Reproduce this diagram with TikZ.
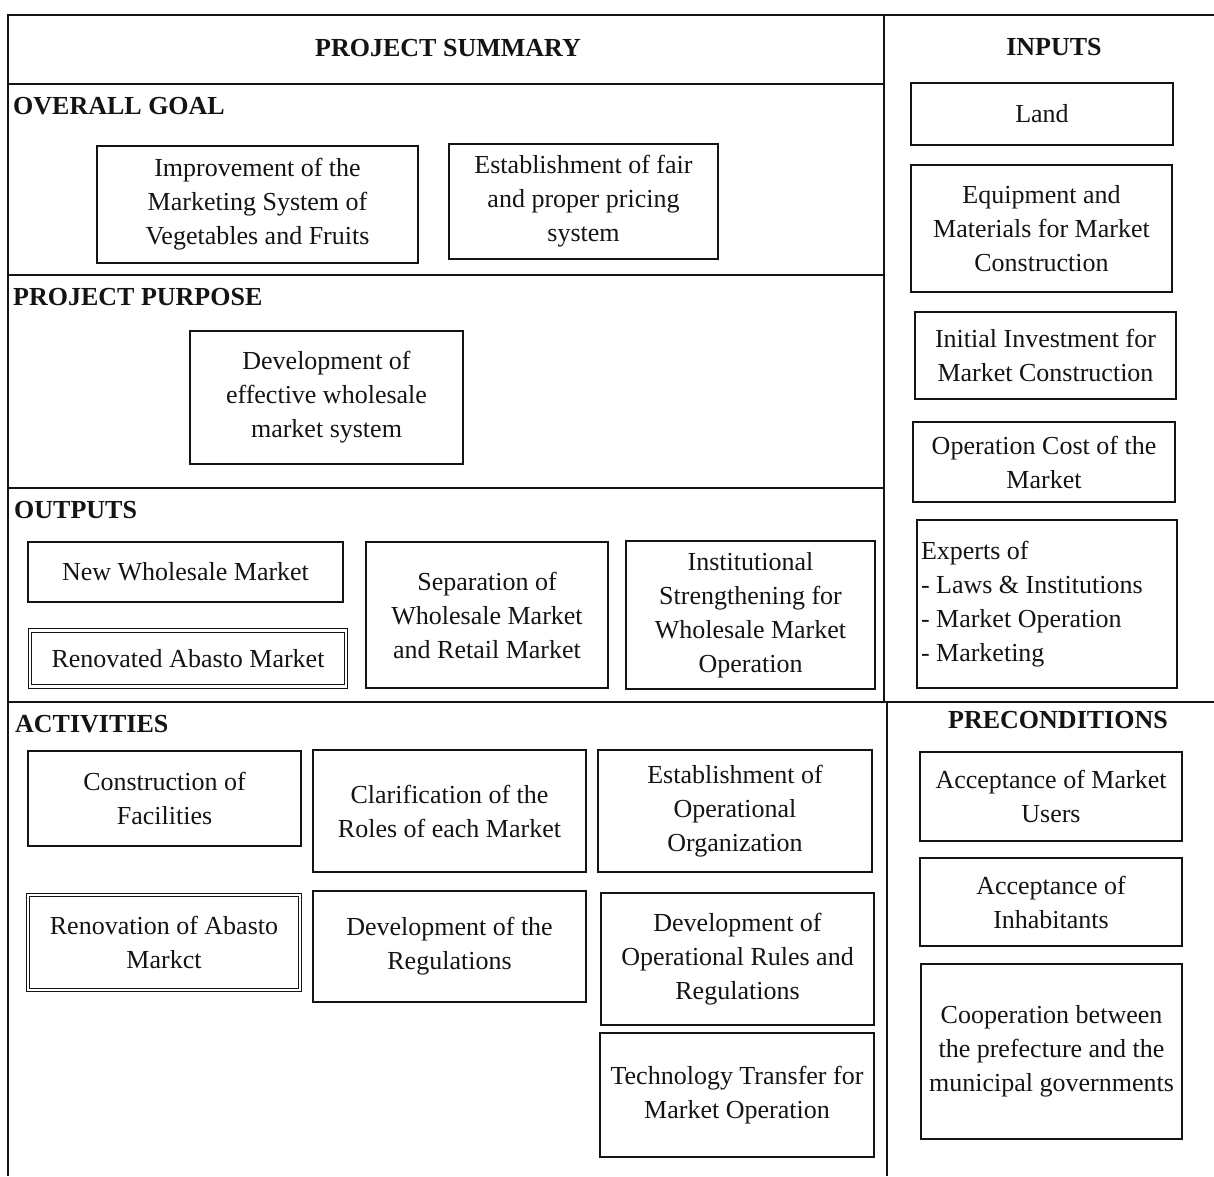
\documentclass[tikz,border=0pt]{standalone}
\usepackage{fontspec}
\setmainfont{Liberation Serif}
\usepackage{tikz}
\usetikzlibrary{positioning}
\definecolor{ink}{HTML}{141414}

\tikzset{
  frame/.style={draw=ink,line width=1.8pt},
  box/.style={draw=ink,line width=1.3pt,align=center,inner sep=2pt,fill=white},
  dbox/.style={box,double,double distance=2.6pt,line width=1.1pt},
  sz/.style 2 args={minimum width=#1pt,minimum height=#2pt},
  head/.style={font=\fontsize{26}{34}\selectfont\bfseries,inner sep=0pt},
}

\begin{document}
\begin{tikzpicture}[x=1pt,y=-1pt,font=\fontsize{26}{34}\selectfont,color=ink]
  \useasboundingbox[fill=white] (0,0) rectangle (1214,1176);

  % frame
  \draw[frame] (1214,15) -- (8,15) -- (8,1176);
  \draw[frame] (884,15) -- (884,702) (887,702) -- (887,1176);
  \draw[frame] (8,84) -- (884,84);
  \draw[frame] (8,275) -- (884,275);
  \draw[frame] (8,488) -- (884,488);
  \draw[frame] (8,702) -- (1214,702);

  \node[head] (hSummary) at (448,48) {PROJECT SUMMARY};
  \node[head] (hInputs) at (1054,47) {INPUTS};
  \node[head,anchor=west] (hGoal) at (13,106) {OVERALL GOAL};
  \node[head,anchor=west] (hPurpose) at (13,297) {PROJECT PURPOSE};
  \node[head,anchor=west] (hOutputs) at (14,510) {OUTPUTS};
  \node[head,anchor=west] (hActivities) at (15,724) {ACTIVITIES};
  \node[head] (hPre) at (1058,720) {PRECONDITIONS};

  \node[box,sz={321}{117}] (goalMkt) at (257.5,204.5) {Improvement of the\\Marketing System of\\Vegetables and Fruits};
  \node[box,sz={269}{115}] (goalPrice) at (583.5,201.5) {Establishment of fair\\and proper pricing\\system};

  \node[box,sz={273}{133}] (purpose) at (326.5,397.5) {Development of\\effective wholesale\\market system};

  \node[box,sz={315}{60}] (outNew) at (185.5,572) {New Wholesale Market};
  \node[dbox,sz={316}{56}] (outRen) at (188,658.5) {Renovated Abasto Market};
  \node[box,sz={242}{146}] (outSep) at (487,615) {Separation of\\Wholesale Market\\and Retail Market};
  \node[box,sz={249}{148}] (outInst) at (750.5,615) {Institutional\\Strengthening for\\Wholesale Market\\Operation};

  \node[box,sz={273}{95}] (actCons) at (164.5,798.5) {Construction of\\Facilities};
  \node[box,sz={273}{122}] (actClar) at (449.5,811) {Clarification of the\\Roles of each Market};
  \node[box,sz={274}{122}] (actOrg) at (735,811) {Establishment of\\Operational\\Organization};
  \node[dbox,sz={272}{95}] (actRen) at (164,942.5) {Renovation of Abasto\\Markct};
  \node[box,sz={273}{111}] (actRegs) at (449.5,946.5) {Development of the\\Regulations};
  \node[box,sz={273}{132}] (actRules) at (737.5,959) {Development of\\Operational Rules and\\Regulations};
  \node[box,sz={274}{124}] (actTech) at (737,1095) {Technology Transfer for\\Market Operation};

  \node[box,sz={262}{62}] (inLand) at (1042,114) {Land};
  \node[box,sz={261}{127}] (inEquip) at (1041.5,228.5) {Equipment and\\Materials for Market\\Construction};
  \node[box,sz={261}{87}] (inInvest) at (1045.5,355.5) {Initial Investment for\\Market Construction};
  \node[box,sz={262}{80}] (inCost) at (1044,462) {Operation Cost of the\\Market};
  \node[box,sz={260}{168},align=flush left,text width=252pt,inner xsep=4pt] (inExperts) at (1047,604)
    {Experts of\\- Laws \& Institutions\\- Market Operation\\- Marketing};

  \node[box,sz={262}{89}] (preUsers) at (1051,796.5) {Acceptance of Market\\Users};
  \node[box,sz={262}{88}] (preInhab) at (1051,902) {Acceptance of\\Inhabitants};
  \node[box,sz={261}{175}] (preCoop) at (1051.5,1051.5) {Cooperation between\\the prefecture and the\\municipal governments};
\end{tikzpicture}
\end{document}
